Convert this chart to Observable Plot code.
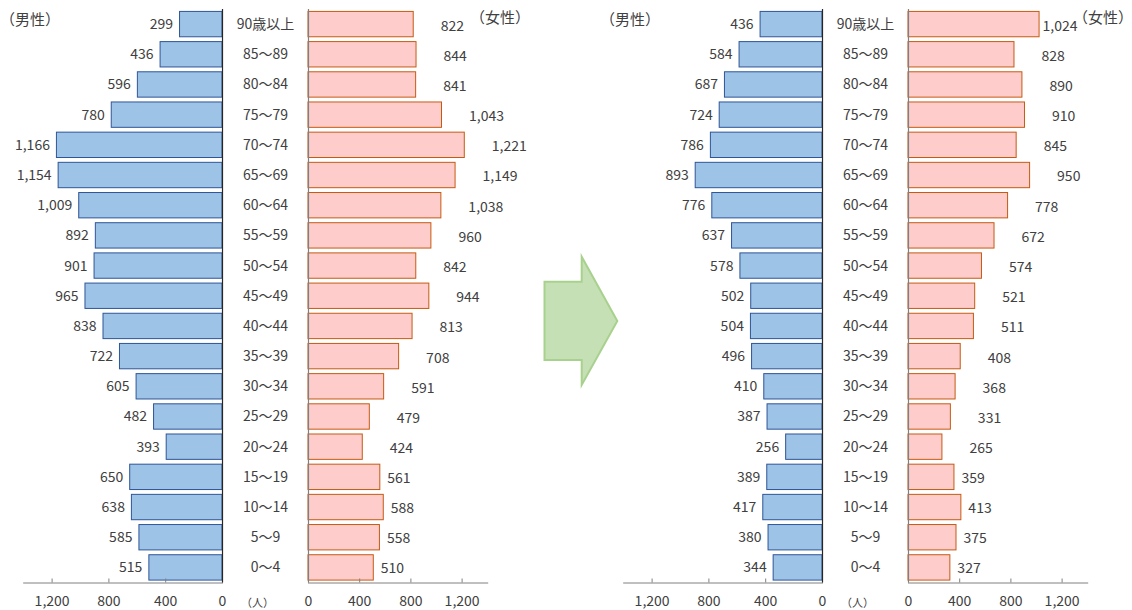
<!DOCTYPE html>
<html>
<head>
<meta charset="utf-8">
<script src="https://cdn.jsdelivr.net/npm/d3@7"></script>
<script src="https://cdn.jsdelivr.net/npm/@observablehq/plot@0.6"></script>
<style>
  body { margin: 0; background: #fff; }
  #chart { position: relative; width: 1132px; height: 610px; font-family: "Noto Sans CJK JP", "Noto Sans", sans-serif; color: #404040; }
  #chart svg.plot { position: absolute; top: 0; overflow: visible; }
  .lbl { position: absolute; white-space: nowrap; line-height: 1; }
</style>
</head>
<body>
<div id="chart"></div>
<script>
// Age groups, oldest at the top
const ageGroups = ["90歳以上", "85～89", "80～84", "75～79", "70～74", "65～69", "60～64", "55～59", "50～54",
  "45～49", "40～44", "35～39", "30～34", "25～29", "20～24", "15～19", "10～14", "5～9", "0～4"];

// Population (人) per age group — first pyramid
const maleA   = [299, 436, 596, 780, 1166, 1154, 1009, 892, 901, 965, 838, 722, 605, 482, 393, 650, 638, 585, 515];
const femaleA = [822, 844, 841, 1043, 1221, 1149, 1038, 960, 842, 944, 813, 708, 591, 479, 424, 561, 588, 558, 510];

// Population (人) per age group — second pyramid
const maleB   = [436, 584, 687, 724, 786, 893, 776, 637, 578, 502, 504, 496, 410, 387, 256, 389, 417, 380, 344];
const femaleB = [1024, 828, 890, 910, 845, 950, 778, 672, 574, 521, 511, 408, 368, 331, 265, 359, 413, 375, 327];

const xTicks = [0, 400, 800, 1200];
const youngGroups = ["15～19", "10～14", "5～9", "0～4"];

const fmt = d3.format(",");
const FONT = '"Noto Sans CJK JP", "Noto Sans", sans-serif';
const TEXT = "#404040";
const H = 610;

const chart = document.getElementById("chart");

function table(values) {
  return ageGroups.map((age, i) => ({age, value: values[i]}));
}

const yScale = {domain: ageGroups, paddingInner: 0.16, paddingOuter: 0.08, axis: null, round: false};
const common = {height: H, marginTop: 9, marginBottom: H - 582.5, style: {fontFamily: FONT, color: TEXT, background: "transparent", overflow: "visible"}};

function axis() {
  return Plot.axisX({ticks: xTicks, tickFormat: fmt, tickSize: -4, tickPadding: 17, fontSize: 14, stroke: "#808080", fill: TEXT, label: null});
}

function malePanel(values) {
  const data = table(values);
  return Plot.plot({
    ...common,
    width: 240, marginLeft: 23.2, marginRight: 18,
    x: {domain: [0, 1400], reverse: true, axis: null, label: null},
    y: yScale,
    marks: [
      Plot.barX(data, {x: "value", y: "age", fill: "#9DC3E6", stroke: "#2F5597", strokeWidth: 1}),
      Plot.text(data, {x: "value", y: "age", text: d => fmt(d.value), textAnchor: "end", dx: -7, fontSize: 14, fill: TEXT}),
      Plot.frame({anchor: "bottom", stroke: "#808080"}),
      axis(),
      Plot.ruleX([0], {stroke: "#262626", strokeWidth: 1.2})
    ]
  });
}

function femalePanel(values) {
  const data = table(values);
  const top = ageGroups[0];
  // the top label of a long bar stays tight to its bar so it clears the （女性） heading
  const tucked = d => d.age === top && d.value > 1000;
  const young = d => youngGroups.includes(d.age);
  return Plot.plot({
    ...common,
    width: 300, marginLeft: 78, marginRight: 300 - 78 - 179.2,
    x: {domain: [0, 1400], axis: null, label: null},
    y: yScale,
    marks: [
      Plot.barX(data, {x: "value", y: "age", fill: "#FFCCCC", stroke: "#C55A11", strokeWidth: 1}),
      Plot.text(data, {filter: d => !tucked(d) && !young(d), x: "value", y: "age", text: d => fmt(d.value), textAnchor: "start", dx: 27, dy: 1.5, fontSize: 14, fill: TEXT}),
      Plot.text(data, {filter: young, x: "value", y: "age", text: d => fmt(d.value), textAnchor: "start", dx: 7, dy: 1, fontSize: 14, fill: TEXT}),
      Plot.text(data, {filter: tucked, x: "value", y: "age", text: d => fmt(d.value), textAnchor: "start", dx: 3, dy: 2, fontSize: 14, fill: TEXT}),
      // age group labels in the gap between the two halves
      Plot.text(ageGroups, {y: d => d, frameAnchor: "left", dx: -43, textAnchor: "middle", fontSize: 14, fill: TEXT}),
      Plot.frame({anchor: "bottom", stroke: "#808080"}),
      axis(),
      Plot.ruleX([0], {stroke: "#808080", strokeWidth: 1.2})
    ]
  });
}

function place(el, left) {
  el.classList.add("plot");
  el.style.position = "absolute";
  el.style.left = left + "px";
  el.style.top = "0px";
  chart.appendChild(el);
}

function label(text, left, top, size) {
  const s = document.createElement("span");
  s.className = "lbl";
  s.textContent = text;
  s.style.left = left + "px";
  s.style.top = top + "px";
  s.style.fontSize = size + "px";
  chart.appendChild(s);
}

function pyramid(ox, male, female) {
  place(malePanel(male), ox);
  place(femalePanel(female), ox + 230);
}

pyramid(0, maleA, femaleA);
pyramid(600, maleB, femaleB);

label("（男性）", 0, 11, 15);
label("（女性）", 470, 9, 15);
label("（男性）", 600, 11, 15);
label("（女性）", 1073, 9, 15);
label("（人）", 241, 597, 11);
label("（人）", 841, 597, 11);

// arrow between the two pyramids
const ns = "http://www.w3.org/2000/svg";
const arrow = document.createElementNS(ns, "svg");
arrow.setAttribute("width", 1132);
arrow.setAttribute("height", 610);
arrow.style.position = "absolute";
arrow.style.left = "0px";
arrow.style.top = "0px";
const poly = document.createElementNS(ns, "polygon");
poly.setAttribute("points", "544.5,281.7 581.7,281.7 581.7,256.7 617.3,321 581.7,385 581.7,360 544.5,360");
poly.setAttribute("fill", "#C5E0B4");
poly.setAttribute("stroke", "#A9D18E");
poly.setAttribute("stroke-width", "2");
arrow.appendChild(poly);
chart.appendChild(arrow);
</script>
</body>
</html>
